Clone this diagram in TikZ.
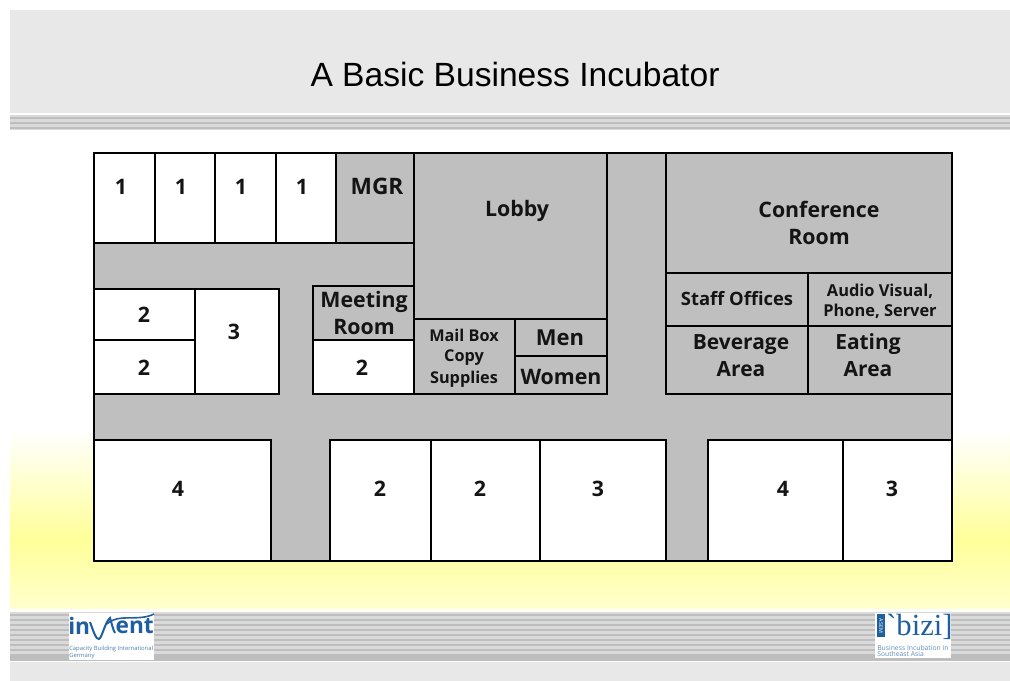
\documentclass[tikz,border=0pt]{standalone}
\usepackage{fontspec}
\setmainfont{Open Sans}
\newfontfamily\titlefont{Liberation Sans}
\newfontfamily\bizifont{Liberation Serif}
\definecolor{bandgray}{HTML}{E8E8E8}
\definecolor{stripedark}{HTML}{BEBEBE}
\definecolor{stripelight}{HTML}{DADADA}
\definecolor{floorgray}{HTML}{BFBFBF}
\definecolor{glow}{HTML}{FFFF99}
\definecolor{logoblue}{HTML}{1F5FA0}
\tikzset{
  x=0.75pt,y=-0.75pt,
  wall/.style={draw=black,line width=1.5pt,line join=miter},
  office/.style={wall,fill=white},
  shared/.style={wall,fill=floorgray},
  lab/.style={font=\bfseries\fontsize{#1}{#1}\selectfont,align=center,inner sep=0pt,text=black!92},
  lab/.default=16,
}
\newcommand{\stripes}[2]{%
  \fill[stripelight] (10,#1) rectangle (1010,#2);
  \pgfmathtruncatemacro{\ystart}{#1+2}
  \pgfmathtruncatemacro{\ynext}{#1+7}
  \foreach \yy in {\ystart,\ynext,...,#2}{\fill[stripedark] (10,\yy) rectangle (1010,\yy+2);}
}
\begin{document}
\begin{tikzpicture}
\useasboundingbox (0,0) rectangle (1010,681);
\fill[white] (0,0) rectangle (1010,681);
% slide background
\fill[bandgray] (10,10) rectangle (1010,113);
\stripes{115}{130}
\shade[top color=white,bottom color=glow] (10,430) rectangle (1010,540);
\shade[top color=glow,bottom color=glow!50] (10,540) rectangle (1010,608);
\stripes{612}{660}
\fill[stripedark] (10,656) rectangle (1010,660);
\fill[bandgray] (10,662) rectangle (1010,681);
\node[font=\titlefont\fontsize{25.2}{25.2}\selectfont,inner sep=0pt] (title) at (515,74) {A Basic Business Incubator};
% floor
\draw[shared] (94,153) rectangle (952,561);
% top-left offices
\draw[office] (94,153) rectangle (155,243);
\draw[office] (155,153) rectangle (215,243);
\draw[office] (215,153) rectangle (276,243);
\draw[office] (276,153) rectangle (336,243);
\draw[shared] (336,153) rectangle (414,243);
% lobby block
\draw[shared] (414,153) rectangle (607,319);
\draw[shared] (414,319) rectangle (515,394);
\draw[shared] (515,319) rectangle (607,356);
\draw[shared] (515,356) rectangle (607,394);
% left block
\draw[office] (94,289) rectangle (195,340);
\draw[office] (94,340) rectangle (195,394);
\draw[office] (195,289) rectangle (279,394);
\draw[shared] (313,286) rectangle (414,340);
\draw[office] (313,340) rectangle (414,394);
% right block
\draw[shared] (666,153) rectangle (952,273);
\draw[shared] (666,273) rectangle (808,326);
\draw[shared] (808,273) rectangle (952,326);
\draw[shared] (666,326) rectangle (808,394);
\draw[shared] (808,326) rectangle (952,394);
% bottom row
\draw[office] (94,440) rectangle (271,561);
\draw[office] (330,440) rectangle (431,561);
\draw[office] (431,440) rectangle (540,561);
\draw[office] (540,440) rectangle (666,561);
\draw[office] (708,440) rectangle (843,561);
\draw[office] (843,440) rectangle (952,561);
% labels
\node[lab] (o1) at (121,187) {1};
\node[lab] (o2) at (181,187) {1};
\node[lab] (o3) at (241,187) {1};
\node[lab] (o4) at (302,187) {1};
\node[lab=17] (mgr) at (377,186) {MGR};
\node[lab] (lobby) at (517,210.5) {Lobby};
\node[lab] (conf) at (819,209) {Conference};
\node[lab] (confb) at (819,237) {Room};
\node[lab=13.8] (staff) at (737,299) {Staff Offices};
\node[lab=12.3] (av) at (880,291) {Audio Visual,};
\node[lab=12.3] (avb) at (880,311) {Phone, Server};
\node[lab=15.7] (bev) at (741,344.5) {Beverage};
\node[lab=15.7] (beva) at (741,369) {Area};
\node[lab=15.7] (eat) at (868,344.5) {Eating};
\node[lab=15.7] (eata) at (868,369) {Area};
\node[lab] (s2a) at (144,315) {2};
\node[lab] (s2b) at (144,368) {2};
\node[lab] (s3) at (234,332) {3};
\node[lab] (meet) at (364,301.5) {Meeting};
\node[lab] (meetb) at (364,327) {Room};
\node[lab] (m2) at (362,368) {2};
\node[lab=12.2] (mail) at (464,335) {Mail Box};
\node[lab=12.2] (copy) at (464,358) {Copy};
\node[lab=12.2] (sup) at (464,379) {Supplies};
\node[lab=16.5] (men) at (560,338) {Men};
\node[lab] (women) at (561,377) {Women};
\node[lab] (b4a) at (178,489) {4};
\node[lab] (b2a) at (380,489) {2};
\node[lab] (b2b) at (480,489) {2};
\node[lab] (b3a) at (598,489) {3};
\node[lab] (b4b) at (783,489) {4};
\node[lab] (b3b) at (892,489) {3};
% InWEnt logo
\fill[white] (69,613) rectangle (154,660);
\node[font=\bfseries\fontsize{17}{17}\selectfont,text=logoblue,inner sep=0pt,anchor=west] (inw) at (68,626) {in};
\node[font=\bfseries\fontsize{17}{17}\selectfont,text=logoblue,inner sep=0pt,anchor=east] (ent) at (154,626) {ent};
\draw[logoblue,line width=1.5pt] (90,622) .. controls (93,630) and (96,640) .. (99,639) .. controls (102,638) and (105,622) .. (110,618) .. controls (112,624) and (113,630) .. (115,633);
\draw[logoblue,line width=1.2pt] (107,624) .. controls (118,613) and (138,622) .. (154,614);
\node[font=\fontsize{4.4}{4.4}\selectfont,text=logoblue!80,inner sep=0pt,anchor=west] (inwa) at (69,649) {Capacity Building International};
\node[font=\fontsize{4.4}{4.4}\selectfont,text=logoblue!80,inner sep=0pt,anchor=west] (inwb) at (69,656) {Germany};
% bizi logo
\fill[white] (875,613) rectangle (951,658);
\fill[logoblue] (877,616) rectangle (885,637);
\node[font=\fontsize{4}{4}\selectfont,text=white,rotate=270,inner sep=0pt] (asem) at (881,626) {ASEM};
\node[font=\bizifont\fontsize{23}{23}\selectfont,text=logoblue,inner sep=0pt,anchor=west] (bizi) at (886,627) {\symbol{96}bizi]};
\draw[logoblue,line width=1pt] (885,615) -- (877,615);
\node[font=\fontsize{5.1}{6}\selectfont,text=logoblue!70,inner sep=0pt,anchor=west] (bizia) at (877,648) {Business Incubation in};
\node[font=\fontsize{5.1}{6}\selectfont,text=logoblue!70,inner sep=0pt,anchor=west] (bizib) at (877,654) {Southeast Asia};
\end{tikzpicture}
\end{document}
